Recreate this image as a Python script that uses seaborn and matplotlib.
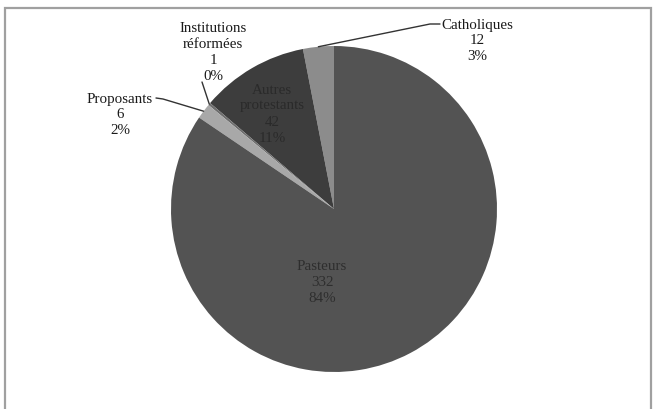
import numpy as np
import matplotlib.pyplot as plt
import seaborn as sns
from matplotlib.patches import Rectangle

sns.set_theme(style="white")
plt.rcParams['font.family'] = ['Liberation Serif', 'DejaVu Serif']

# données (ordre anti-horaire depuis midi)
categories = ["Catholiques", "Autres\nprotestants", "Institutions\nréformées", "Proposants", "Pasteurs"]
valeurs = [12, 42, 1, 6, 332]
couleurs = ["#8c8c8c", "#3d3d3d", "#6e6e6e", "#a8a8a8", "#535353"]

W, H = 656, 409
total = sum(valeurs)

fig = plt.figure(figsize=(W / 100, H / 100), dpi=100)
ax = fig.add_axes([0, 0, 1, 1])

def Y(y):
    # coordonnée depuis le haut de l'image
    return H - y

cx, cy, r = 334, Y(209), 163
wedges, _ = ax.pie(valeurs, colors=couleurs, startangle=90, counterclock=True,
                   center=(cx, cy), radius=r, frame=True,
                   wedgeprops=dict(linewidth=0))
ax.set_xlim(0, W)
ax.set_ylim(0, H)
ax.set_aspect("equal")
ax.axis("off")

# cadre
ax.add_patch(Rectangle((5, Y(412)), 646, 404, fill=False, edgecolor="#a0a0a0", lw=1.6))

def etiquette(i):
    pct = valeurs[i] / total * 100
    return f"{categories[i]}\n{valeurs[i]}\n{pct:.0f}%"

def bord(i, frac=0.5):
    w = wedges[i]
    a = np.deg2rad(w.theta1 + (w.theta2 - w.theta1) * frac)
    return cx + r * np.cos(a), cy + r * np.sin(a)

txt = dict(fontsize=10.8, linespacing=1.3, ha="center", va="center")

# étiquettes intérieures
ax.text(272, Y(114), etiquette(1), color="#2a2a2a", **txt)
ax.text(322, Y(283), etiquette(4), color="#2e2e2e", **txt)

# étiquettes extérieures avec lignes de rappel
ax.text(477, Y(41), etiquette(0), color="#1a1a1a", **txt)
x0, y0 = bord(0)
ax.plot([x0, 430, 440], [y0, Y(24), Y(24)], color="#333333", lw=1)

ax.text(213, Y(52), etiquette(2), color="#1a1a1a", **txt)
x2, y2 = bord(2)
ax.plot([202, x2], [Y(82), y2], color="#333333", lw=1)

ax.text(120, Y(115), etiquette(3), color="#1a1a1a", **txt)
x3, y3 = bord(3)
ax.plot([156, 163, x3], [Y(98), Y(99), y3], color="#333333", lw=1)

fig.savefig("out.png", dpi=100, facecolor="white")
